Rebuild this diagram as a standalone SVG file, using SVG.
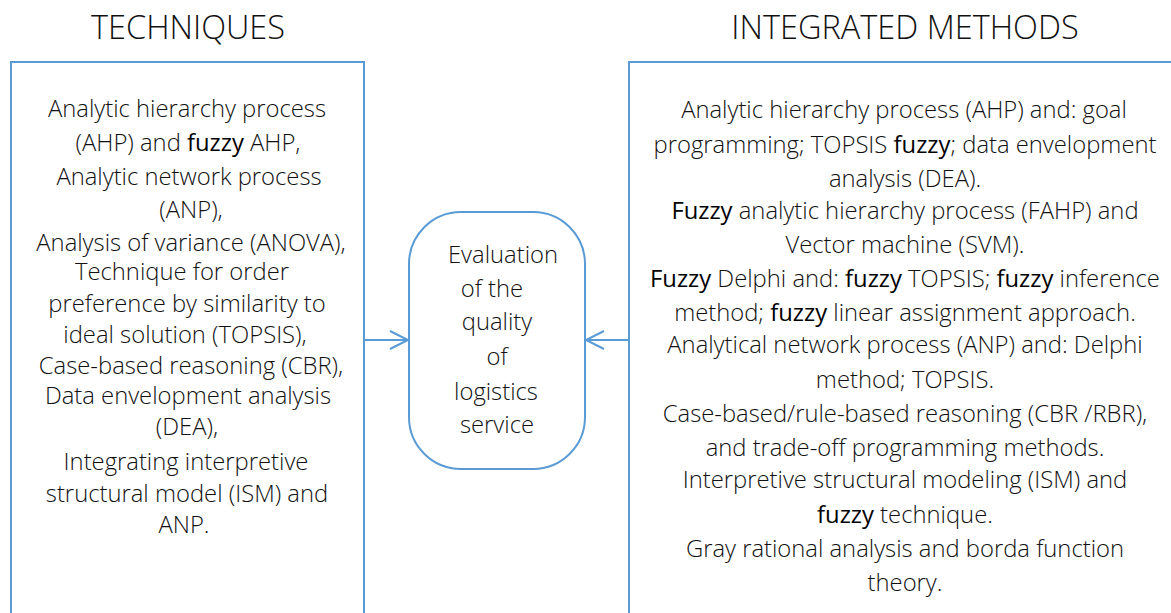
<svg xmlns="http://www.w3.org/2000/svg" width="1171" height="613" viewBox="0 0 1171 613">
<style>
.box{fill:#ffffff;stroke:#5b9bd5;stroke-width:2}
.conn{fill:none;stroke:#5b9bd5;stroke-width:2}
text{font-family:"Open Sans",Lato,sans-serif;font-weight:300;fill:#111111;text-anchor:middle}
.hd{font-size:32.5px}
.t{font-size:23.8px}
.f{font-weight:500;fill:#000000}
</style>
<rect width="1171" height="613" fill="#ffffff"/>
<g id="header-techniques"><text class="hd" x="188" y="39">TECHNIQUES</text></g>
<g id="header-integrated"><text class="hd" x="905" y="39">INTEGRATED METHODS</text></g>
<g id="techniques">
<rect class="box" x="11" y="62" width="353" height="580"/>
<text class="t" x="187" y="117">Analytic hierarchy process</text>
<text class="t" x="188" y="151">(AHP) and <tspan class="f">fuzzy</tspan> AHP,</text>
<text class="t" x="189" y="185">Analytic network process</text>
<text class="t" x="191" y="218">(ANP),</text>
<text class="t" x="191" y="251">Analysis of variance (ANOVA),</text>
<text class="t" x="182" y="280">Technique for order</text>
<text class="t" x="187" y="312">preference by similarity to</text>
<text class="t" x="185" y="343">ideal solution (TOPSIS),</text>
<text class="t" x="191" y="374">Case-based reasoning (CBR),</text>
<text class="t" x="188" y="404">Data envelopment analysis</text>
<text class="t" x="187" y="435">(DEA),</text>
<text class="t" x="186" y="470">Integrating interpretive</text>
<text class="t" x="187" y="502">structural model (ISM) and</text>
<text class="t" x="184" y="533">ANP.</text>
</g>
<g id="evaluation">
<rect class="box" x="409" y="212" width="176" height="257" rx="52" ry="52"/>
<text class="t" x="503" y="263">Evaluation</text>
<text class="t" x="492" y="297">of the</text>
<text class="t" x="497" y="330">quality</text>
<text class="t" x="497" y="365">of</text>
<text class="t" x="496" y="400">logistics</text>
<text class="t" x="497" y="433">service</text>
</g>
<g id="integrated">
<rect class="box" x="629" y="62" width="600" height="580"/>
<text class="t" x="904" y="118">Analytic hierarchy process (AHP) and: goal</text>
<text class="t" x="905" y="153">programming; TOPSIS <tspan class="f">fuzzy</tspan>; data envelopment</text>
<text class="t" x="905" y="187">analysis (DEA).</text>
<text class="t" x="905" y="219"><tspan class="f">Fuzzy</tspan> analytic hierarchy process (FAHP) and</text>
<text class="t" x="905" y="253">Vector machine (SVM).</text>
<text class="t" x="905" y="287"><tspan class="f">Fuzzy</tspan> Delphi and: <tspan class="f">fuzzy</tspan> TOPSIS; <tspan class="f">fuzzy</tspan> inference</text>
<text class="t" x="905" y="321">method; <tspan class="f">fuzzy</tspan> linear assignment approach.</text>
<text class="t" x="905" y="353">Analytical network process (ANP) and: Delphi</text>
<text class="t" x="905" y="388">method; TOPSIS.</text>
<text class="t" x="905" y="422">Case-based/rule-based reasoning (CBR /RBR),</text>
<text class="t" x="905" y="456">and trade-off programming methods.</text>
<text class="t" x="905" y="488">Interpretive structural modeling (ISM) and</text>
<text class="t" x="905" y="523"><tspan class="f">fuzzy</tspan> technique.</text>
<text class="t" x="905" y="557">Gray rational analysis and borda function</text>
<text class="t" x="905" y="591">theory.</text>
</g>
<g id="connectors">
<line class="conn" x1="364" y1="340" x2="408" y2="340"/>
<polyline class="conn" points="390,331 408,340 390,349"/>
<line class="conn" x1="629" y1="340" x2="586" y2="340"/>
<polyline class="conn" points="604,331 586,340 604,349"/>
</g>
</svg>
